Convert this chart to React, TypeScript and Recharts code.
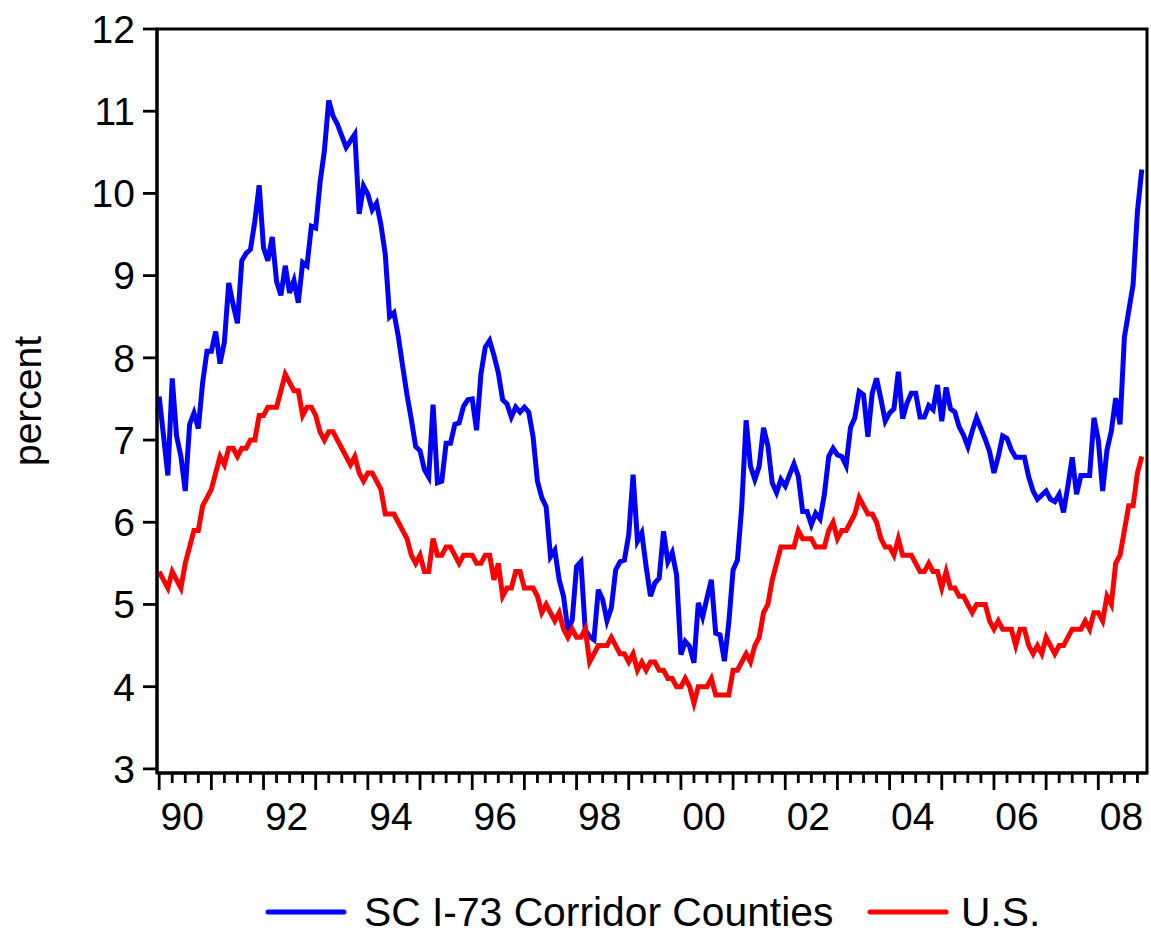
import React from "react";
import { LineChart, Line, XAxis, YAxis, Legend, ReferenceArea } from "recharts";

const FONT = '"Liberation Sans", Arial, Helvetica, sans-serif';

// monthly unemployment rate, Jan 1990 .. Nov 2008 (one row per year)
const scCorridor = [
  7.53, 7.05, 6.57, 7.75, 7.05, 6.8, 6.38, 7.19, 7.33, 7.14, 7.7, 8.08,
  8.08, 8.32, 7.93, 8.19, 8.91, 8.65, 8.42, 9.18, 9.27, 9.32, 9.66, 10.1,
  9.34, 9.18, 9.47, 8.93, 8.76, 9.12, 8.79, 8.94, 8.67, 9.16, 9.12, 9.6,
  9.58, 10.13, 10.52, 11.13, 10.94, 10.84, 10.7, 10.56, 10.64, 10.72, 9.75, 10.09,
  9.99, 9.8, 9.88, 9.62, 9.26, 8.5, 8.55, 8.26, 7.9, 7.55, 7.25, 6.92,
  6.87, 6.64, 6.55, 7.43, 6.48, 6.5, 6.96, 6.96, 7.19, 7.21, 7.41, 7.49,
  7.5, 7.12, 7.8, 8.13, 8.21, 8.03, 7.82, 7.49, 7.44, 7.28, 7.4, 7.34,
  7.4, 7.34, 7.04, 6.5, 6.3, 6.19, 5.58, 5.66, 5.3, 5.1, 4.69, 4.81,
  5.46, 5.52, 4.69, 4.61, 4.57, 5.18, 5.06, 4.8, 4.96, 5.42, 5.52, 5.54,
  5.85, 6.58, 5.77, 5.87, 5.46, 5.1, 5.26, 5.32, 5.89, 5.52, 5.63, 5.36,
  4.39, 4.55, 4.49, 4.29, 5.02, 4.85, 5.08, 5.3, 4.65, 4.63, 4.31, 4.77,
  5.42, 5.54, 6.2, 7.24, 6.68, 6.52, 6.68, 7.15, 6.93, 6.48, 6.36, 6.52,
  6.44, 6.58, 6.71, 6.56, 6.13, 6.13, 5.97, 6.11, 6.04, 6.34, 6.8, 6.9,
  6.82, 6.8, 6.69, 7.15, 7.27, 7.59, 7.55, 7.04, 7.57, 7.75, 7.5, 7.23,
  7.33, 7.38, 7.83, 7.26, 7.45, 7.57, 7.57, 7.28, 7.28, 7.42, 7.37, 7.67,
  7.23, 7.64, 7.38, 7.34, 7.16, 7.06, 6.92, 7.11, 7.27, 7.14, 7.01, 6.86,
  6.6, 6.8, 7.05, 7.02, 6.88, 6.79, 6.79, 6.79, 6.55, 6.38, 6.28, 6.33,
  6.38, 6.28, 6.25, 6.34, 6.12, 6.44, 6.79, 6.34, 6.57, 6.57, 6.57, 7.27,
  7.0, 6.38, 6.88, 7.11, 7.51, 7.19, 8.25, 8.57, 8.89, 9.78, 10.29
];

const usRate = [
  5.4, 5.3, 5.2, 5.4, 5.3, 5.2, 5.5, 5.7, 5.9, 5.9, 6.2, 6.3,
  6.4, 6.6, 6.8, 6.7, 6.9, 6.9, 6.8, 6.9, 6.9, 7.0, 7.0, 7.3,
  7.3, 7.4, 7.4, 7.4, 7.6, 7.8, 7.7, 7.6, 7.6, 7.3, 7.4, 7.4,
  7.3, 7.1, 7.0, 7.1, 7.1, 7.0, 6.9, 6.8, 6.7, 6.8, 6.6, 6.5,
  6.6, 6.6, 6.5, 6.4, 6.1, 6.1, 6.1, 6.0, 5.9, 5.8, 5.6, 5.5,
  5.6, 5.4, 5.4, 5.8, 5.6, 5.6, 5.7, 5.7, 5.6, 5.5, 5.6, 5.6,
  5.6, 5.5, 5.5, 5.6, 5.6, 5.3, 5.5, 5.1, 5.2, 5.2, 5.4, 5.4,
  5.2, 5.2, 5.2, 5.1, 4.9, 5.0, 4.9, 4.8, 4.9, 4.7, 4.6, 4.7,
  4.6, 4.6, 4.7, 4.3, 4.4, 4.5, 4.5, 4.5, 4.6, 4.5, 4.4, 4.4,
  4.3, 4.4, 4.2, 4.3, 4.2, 4.3, 4.3, 4.2, 4.2, 4.1, 4.1, 4.0,
  4.0, 4.1, 4.0, 3.8, 4.0, 4.0, 4.0, 4.1, 3.9, 3.9, 3.9, 3.9,
  4.2, 4.2, 4.3, 4.4, 4.3, 4.5, 4.6, 4.9, 5.0, 5.3, 5.5, 5.7,
  5.7, 5.7, 5.7, 5.9, 5.8, 5.8, 5.8, 5.7, 5.7, 5.7, 5.9, 6.0,
  5.8, 5.9, 5.9, 6.0, 6.1, 6.3, 6.2, 6.1, 6.1, 6.0, 5.8, 5.7,
  5.7, 5.6, 5.8, 5.6, 5.6, 5.6, 5.5, 5.4, 5.4, 5.5, 5.4, 5.4,
  5.2, 5.4, 5.2, 5.2, 5.1, 5.1, 5.0, 4.9, 5.0, 5.0, 5.0, 4.8,
  4.7, 4.8, 4.7, 4.7, 4.7, 4.5, 4.7, 4.7, 4.5, 4.4, 4.5, 4.4,
  4.6, 4.5, 4.4, 4.5, 4.5, 4.6, 4.7, 4.7, 4.7, 4.8, 4.7, 4.9,
  4.9, 4.8, 5.1, 5.0, 5.5, 5.6, 5.9, 6.2, 6.2, 6.6, 6.8
];

const yearLabels = ["90", "92", "94", "96", "98", "00", "02", "04", "06", "08"];
const yTicks = [3, 4, 5, 6, 7, 8, 9, 10, 11, 12];
// one tick per quarter, months counted from Jan 1990
const quarterTicks = Array.from({ length: 76 }, (_, k) => k * 3);

const data = scCorridor.map((sc, t) => ({ t, sc, us: usRate[t] }));

const X_DOMAIN: [number, number] = [-0.5, 227.2];
const Y_DOMAIN: [number, number] = [2.95, 12];

// eslint-disable-next-line @typescript-eslint/no-explicit-any
const MonthTick = (props: any) => {
  const { x, y, payload } = props;
  const m = payload.value;
  const major = m % 12 === 0;
  const label = m % 24 === 6 ? yearLabels[(m - 6) / 24] : null;
  return (
    <g>
      <line x1={x} x2={x} y1={y} y2={y + (major ? 17 : 10)} stroke="#000" strokeWidth={2.8} />
      {label && (
        <text x={x - 3} y={y + 57} textAnchor="middle" fontSize={39} fontFamily={FONT} fill="#000">
          {label}
        </text>
      )}
    </g>
  );
};

const PercentLabel = () => (
  <text x={41} y={401} transform="rotate(-90 41 401)" textAnchor="middle" fontSize={39} fontFamily={FONT} fill="#000">
    percent
  </text>
);

const legendLayout = [
  { lineX: 268, textX: 364 },
  { lineX: 870, textX: 961 }
];

// eslint-disable-next-line @typescript-eslint/no-explicit-any
const renderLegend = (props: any) => {
  const items = props.payload || [];
  return (
    <svg width={1151} height={50}>
      {/* eslint-disable-next-line @typescript-eslint/no-explicit-any */}
      {items.map((item: any, k: number) => (
        <g key={k}>
          <line
            x1={legendLayout[k].lineX}
            x2={legendLayout[k].lineX + 76}
            y1={24}
            y2={24}
            stroke={item.color}
            strokeWidth={5}
            strokeLinecap="round"
          />
          <text x={legendLayout[k].textX} y={38} fontSize={40.8} fontFamily={FONT} fill="#000">
            {item.value}
          </text>
        </g>
      ))}
    </svg>
  );
};

export default function App() {
  return (
    <div style={{ position: "absolute", left: 0, top: 0, background: "#fff" }}>
      <LineChart width={1151} height={934} data={data} margin={{ top: 29, right: 4, bottom: 0, left: 0 }}>
        <XAxis
          dataKey="t"
          type="number"
          domain={X_DOMAIN}
          ticks={quarterTicks}
          interval={0}
          allowDataOverflow
          height={161}
          tickLine={false}
          tickSize={0}
          tickMargin={0}
          axisLine={{ stroke: "#000", strokeWidth: 3 }}
          tick={(p) => <MonthTick {...p} />}
        />
        <YAxis
          type="number"
          domain={Y_DOMAIN}
          ticks={yTicks}
          interval={0}
          allowDataOverflow
          width={157}
          tickSize={14}
          tickMargin={8}
          tickLine={{ stroke: "#000", strokeWidth: 2.8 }}
          axisLine={{ stroke: "#000", strokeWidth: 3 }}
          tick={{ fontSize: 39, fill: "#000", fontFamily: FONT }}
          label={<PercentLabel />}
        />
        <ReferenceArea
          x1={X_DOMAIN[0]}
          x2={X_DOMAIN[1]}
          y1={Y_DOMAIN[0]}
          y2={Y_DOMAIN[1]}
          fill="none"
          stroke="#000"
          strokeWidth={3}
          ifOverflow="visible"
        />
        <Line
          type="linear"
          dataKey="sc"
          name="SC I-73 Corridor Counties"
          stroke="#0000FF"
          strokeWidth={5}
          dot={false}
          isAnimationActive={false}
        />
        <Line
          type="linear"
          dataKey="us"
          name="U.S."
          stroke="#FF0000"
          strokeWidth={5}
          dot={false}
          isAnimationActive={false}
        />
        <Legend
          content={renderLegend}
          layout="horizontal"
          verticalAlign="middle"
          align="center"
          wrapperStyle={{ top: 888, left: 0, width: 1151, height: 50 }}
        />
      </LineChart>
    </div>
  );
}
